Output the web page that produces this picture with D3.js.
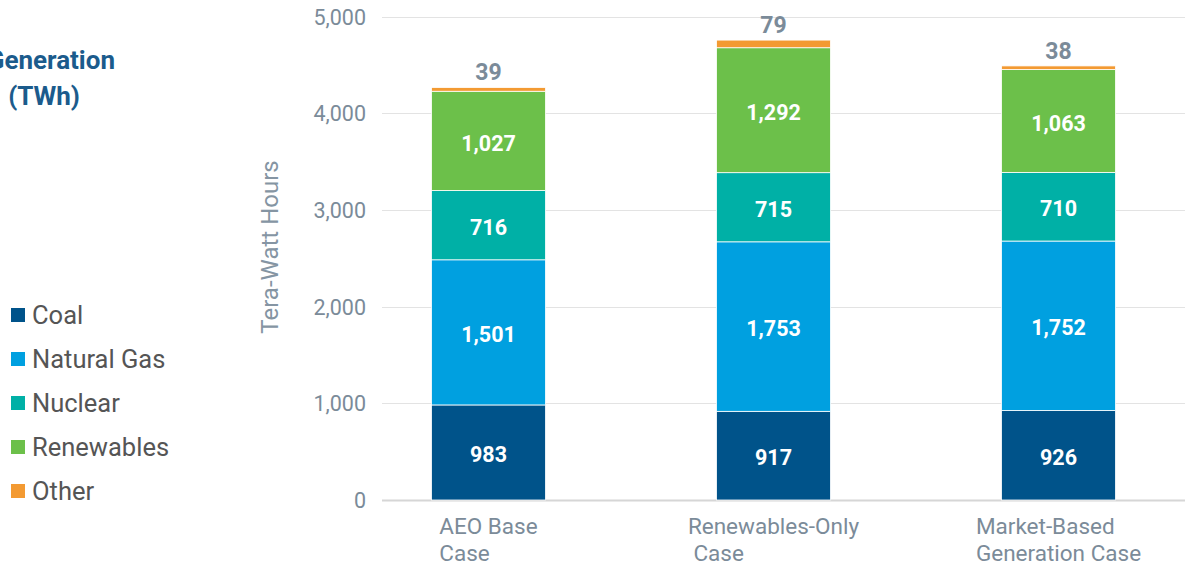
<!DOCTYPE html>
<html><head><meta charset="utf-8">
<script src="https://cdn.jsdelivr.net/npm/d3@7"></script>
<style>body{margin:0;background:#fff;overflow:hidden}svg{display:block;font-family:Roboto,"Noto Sans",sans-serif}</style>
</head><body><svg id="c" width="1185" height="567"></svg>
<script>
const categories = ["AEO Base|Case", "Renewables-Only| Case", "Market-Based|Generation Case"];
const seriesNames = ["Coal", "Natural Gas", "Nuclear", "Renewables", "Other"];
const coal = [983, 917, 926];
const naturalGas = [1501, 1753, 1752];
const nuclear = [716, 715, 710];
const renewables = [1027, 1292, 1063];
const other = [39, 79, 38];
const yTicks = [0, 1000, 2000, 3000, 4000, 5000];
const colors = ["#00538a", "#00a0e0", "#00b0a6", "#6cc04a", "#f39a32"];

const seriesVals = [coal, naturalGas, nuclear, renewables, other];
const rows = categories.map((c, i) => {
  const r = {cat: c};
  seriesNames.forEach((s, j) => r[s] = seriesVals[j][i]);
  return r;
});

const svg = d3.select("#c");
const y = d3.scaleLinear().domain([0, 5000]).range([500, 16.5]);
const x = d3.scaleBand().domain(categories).range([346, 1201]).paddingInner(0.6).paddingOuter(0.3);

// grid
svg.append("g").selectAll("line").data(yTicks).join("line")
  .attr("x1", 382).attr("x2", 1185)
  .attr("y1", d => Math.round(y(d)) + 0.5).attr("y2", d => Math.round(y(d)) + 0.5)
  .attr("stroke", d => d === 0 ? "#d6d6d6" : "#e3e3e3")
  .attr("stroke-width", d => d === 0 ? 2 : 1);

// y axis labels
const yAxis = d3.axisLeft(y).tickValues(yTicks).tickFormat(d3.format(",")).tickSize(0).tickPadding(0);
const ya = svg.append("g").attr("transform", "translate(366,0)").call(yAxis);
ya.select(".domain").remove();
ya.selectAll("text").attr("fill", "#7b8b99").attr("font-size", 21.5).attr("font-family", "Roboto").attr("dy", "0.35em");

svg.append("text").attr("transform", "translate(278,247) rotate(-90)")
  .attr("text-anchor", "middle").attr("fill", "#8595a3").attr("font-size", 24).text("Tera-Watt Hours");

// stacks
const stack = d3.stack().keys(seriesNames)(rows);
const g = svg.append("g");
stack.forEach((layer, j) => {
  g.selectAll(null).data(layer).join("rect")
    .attr("x", d => x(d.data.cat))
    .attr("width", x.bandwidth())
    .attr("y", d => y(d[1]))
    .attr("height", d => y(d[0]) - y(d[1]))
    .attr("fill", colors[j])
    .attr("stroke", "#fff").attr("stroke-width", 0.8);
  if (j < 4) {
    g.selectAll(null).data(layer).join("text")
      .attr("x", d => x(d.data.cat) + x.bandwidth() / 2)
      .attr("y", d => (y(d[0]) + y(d[1])) / 2)
      .attr("dy", "0.45em").attr("text-anchor", "middle")
      .attr("fill", "#fff").attr("font-weight", "bold").attr("font-size", 21.5)
      .text(d => d3.format(",")(d[1] - d[0]));
  } else {
    g.selectAll(null).data(layer).join("text")
      .attr("x", d => x(d.data.cat) + x.bandwidth() / 2)
      .attr("y", d => y(d[1]) - 7)
      .attr("text-anchor", "middle")
      .attr("fill", "#7b8b99").attr("font-weight", "bold").attr("font-size", 23)
      .text(d => d3.format(",")(d[1] - d[0]));
  }
});

// x labels
categories.forEach(c => {
  const lines = c.split("|");
  const t = svg.append("text").attr("fill", "#7b8b99").attr("font-size", 22.5)
    .attr("font-family", "Roboto,sans-serif")
    .attr("xml:space", "preserve").style("white-space", "pre");
  const spans = lines.map((l, i) => t.append("tspan").attr("y", 534 + i * 27).text(l));
  const w = d3.max(spans, s => s.node().getComputedTextLength());
  const cx = x(c) + x.bandwidth() / 2;
  spans.forEach(s => s.attr("x", cx - w / 2));
});

// title (clipped)
svg.append("text").attr("x", 115).attr("y", 69).attr("text-anchor", "end")
  .attr("fill", "#1b5b8c").attr("font-weight", "bold").attr("font-size", 26).text("Generation");
svg.append("text").attr("x", 80).attr("y", 105).attr("text-anchor", "end")
  .attr("fill", "#1b5b8c").attr("font-weight", "bold").attr("font-size", 26).text("(TWh)");

// legend
const lg = svg.append("g").selectAll("g").data(seriesNames).join("g")
  .attr("transform", (d, i) => `translate(11,${315 + i * 44})`);
lg.append("rect").attr("x", 0).attr("y", -7).attr("width", 14).attr("height", 14).attr("fill", (d, i) => colors[i]);
lg.append("text").attr("x", 21).attr("dy", "0.36em").attr("fill", "#555").attr("font-size", 25.5).text(d => d);
</script></body></html>
